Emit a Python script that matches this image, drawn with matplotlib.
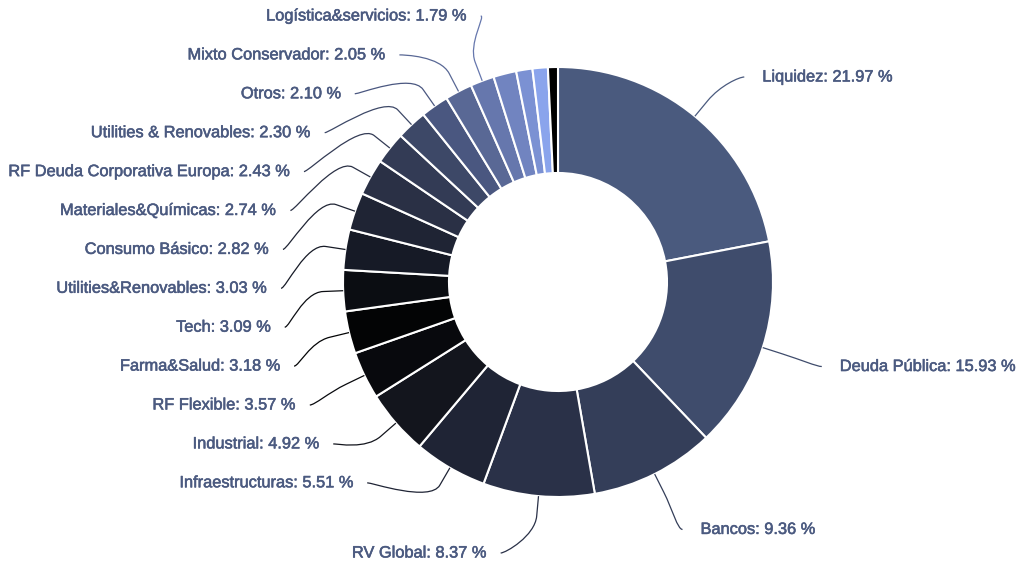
import numpy as np
import matplotlib
matplotlib.use("Agg")
import matplotlib.pyplot as plt
import matplotlib.patheffects as pe
from matplotlib.path import Path
from matplotlib.patches import PathPatch

# Composición de la cartera (%)
names = ["Liquidez", "Deuda Pública", "Bancos", "RV Global", "Infraestructuras",
         "Industrial", "RF Flexible", "Farma&Salud", "Tech", "Utilities&Renovables",
         "Consumo Básico", "Materiales&Químicas", "RF Deuda Corporativa Europa",
         "Utilities & Renovables", "Otros", "Mixto Conservador", "Logística&servicios",
         "", "", "", ""]
values = [21.97, 15.93, 9.36, 8.37, 5.51, 4.92, 3.57, 3.18, 3.09, 3.03, 2.82,
          2.74, 2.43, 2.30, 2.10, 2.05, 1.79, 1.72, 1.22, 1.15, 0.75]
colors = ["#4a5a7e", "#3f4c6c", "#343e59", "#2a3148", "#1f2435", "#13151d",
          "#08090d", "#030405", "#0b0d12", "#161a26", "#1f2434", "#2a3045",
          "#333b55", "#3d4867", "#4a5780", "#596895", "#6677ad", "#7184c0",
          "#7b91d3", "#8aa4ec", "#000000"]

W, H = 1020, 565
cx, cy = 558, H - 282
r_out, r_in = 215, 109
r_lab = 277      # radio donde se apoyan las etiquetas
r_break = 235    # codo del conector
txt_color = "#4b5a80"

fig = plt.figure(figsize=(W / 100, H / 100), dpi=100)
ax = fig.add_axes([0, 0, 1, 1])
wedges, _ = ax.pie(values, colors=colors, startangle=90, counterclock=False,
                   radius=r_out, center=(cx, cy),
                   wedgeprops=dict(width=r_out - r_in, edgecolor="white", linewidth=1.5))
ax.set_xlim(0, W)
ax.set_ylim(0, H)
ax.set_aspect("equal")
ax.axis("off")

# filas de las etiquetas del lado izquierdo (apiladas desde arriba)
left_order = [16, 15, 14, 13, 12, 11, 10, 9, 8, 7, 6, 5, 4]
row_top, row_gap = H - 16, 38.9
label_y = {}
for i, k in enumerate(left_order):
    label_y[k] = row_top - i * row_gap
label_y[0] = H - 77   # Liquidez algo más abajo, como en el original

for k, w in enumerate(wedges):
    if not names[k]:
        continue
    mid = np.deg2rad((w.theta1 + w.theta2) / 2)
    cosm, sinm = np.cos(mid), np.sin(mid)
    left = cosm < 0
    y = label_y.get(k, cy + r_lab * sinm)
    y = min(max(y, 12), H - 16)
    dx = np.sqrt(max(r_lab ** 2 - (y - cy) ** 2, 40 ** 2))
    ax_x = cx - dx if left else cx + dx
    px, py = cx + r_out * cosm, cy + r_out * sinm
    bx, by = cx + r_break * cosm, cy + r_break * sinm
    c1 = (ax_x + (5 if left else -5), y)
    c2 = (2 * bx - px, 2 * by - py)
    path = Path([(ax_x, y), c1, c2, (bx, by), (px, py)],
                [Path.MOVETO, Path.CURVE4, Path.CURVE4, Path.CURVE4, Path.LINETO])
    ax.add_patch(PathPatch(path, fill=False, edgecolor=colors[k], linewidth=0.9))
    tx = ax_x - 14 if left else ax_x + 18
    ax.text(tx, y, f"{names[k]}: {values[k]:.2f} %", ha="right" if left else "left",
            va="center", fontsize=11.8, family="Liberation Sans", color=txt_color,
            path_effects=[pe.withStroke(linewidth=0.4, foreground=txt_color)])

fig.savefig("out.png", dpi=100, facecolor="white")
